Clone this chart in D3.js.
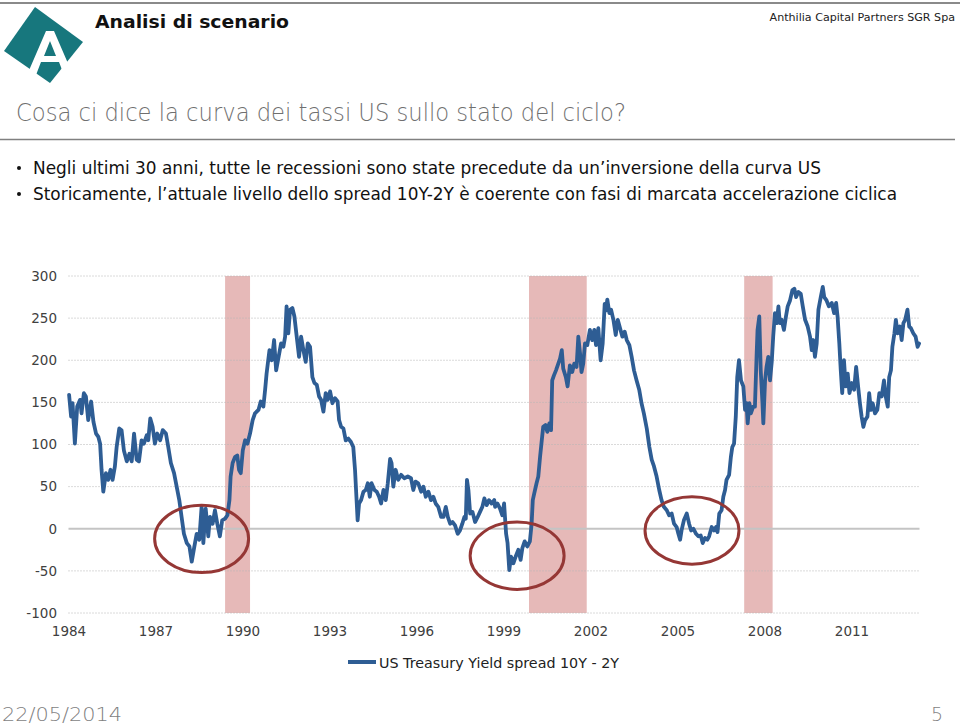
<!DOCTYPE html>
<html><head><meta charset="utf-8">
<script src="https://cdn.jsdelivr.net/npm/d3@7"></script>
<style>
html,body{margin:0;padding:0;background:#fff;}
svg{display:block;}
text{font-family:"DejaVu Sans",sans-serif;}
</style></head>
<body>
<svg id="c" width="960" height="726"></svg>
<script>
// ---------- data ----------
const years = [1984.02,1984.09,1984.14,1984.22,1984.30,1984.40,1984.45,1984.53,1984.60,1984.68,1984.78,1984.86,1984.95,1985.03,1985.09,1985.14,1985.20,1985.29,1985.37,1985.45,1985.52,1985.60,1985.66,1985.75,1985.83,1985.91,1986.01,1986.10,1986.18,1986.26,1986.35,1986.43,1986.52,1986.60,1986.70,1986.75,1986.82,1986.90,1986.98,1987.06,1987.16,1987.25,1987.36,1987.44,1987.53,1987.64,1987.73,1987.82,1987.90,1987.98,1988.08,1988.17,1988.25,1988.33,1988.42,1988.51,1988.59,1988.65,1988.73,1988.82,1988.88,1988.97,1989.05,1989.13,1989.22,1989.30,1989.40,1989.48,1989.55,1989.59,1989.66,1989.74,1989.82,1989.88,1989.94,1990.01,1990.09,1990.17,1990.26,1990.35,1990.43,1990.55,1990.63,1990.72,1990.78,1990.83,1990.93,1991.01,1991.09,1991.16,
1991.33,1991.41,1991.47,1991.52,1991.58,1991.64,1991.72,1991.79,1991.87,1991.95,1992.02,1992.10,1992.18,1992.25,1992.33,1992.41,1992.48,1992.56,1992.64,1992.71,1992.79,1992.87,1992.94,1993.02,1993.10,1993.19,1993.28,1993.33,1993.40,1993.48,1993.56,1993.65,1993.74,1993.82,1993.88,1993.94,1993.97,1994.02,1994.09,1994.17,1994.25,1994.32,1994.39,1994.45,1994.55,1994.63,1994.71,1994.78,1994.86,1994.94,1995.01,1995.09,1995.14,1995.20,1995.28,1995.37,1995.47,1995.58,1995.70,1995.81,1995.89,1995.97,1996.06,1996.16,1996.24,1996.32,1996.41,1996.50,1996.58,1996.66,1996.75,1996.85,1996.93,1997.01,1997.08,1997.16,1997.24,1997.33,1997.42,1997.50,1997.58,1997.65,1997.70,1997.74,1997.79,1997.85,1997.93,1998.02,1998.11,1998.19,1998.27,1998.34,1998.42,1998.50,1998.59,1998.68,
1998.71,1998.79,1998.88,1998.96,1999.02,1999.09,1999.14,1999.20,1999.26,1999.34,1999.42,1999.51,1999.59,1999.65,1999.73,1999.82,1999.91,1999.97,2000.01,2000.06,2000.14,2000.20,2000.26,2000.32,2000.37,2000.45,2000.51,2000.58,2000.64,2000.68,2000.74,2000.81,2000.89,2000.95,2001.01,2001.06,2001.15,2001.21,2001.29,2001.37,2001.44,2001.52,2001.58,2001.64,2001.69,2001.75,2001.81,2001.89,2001.98,2002.06,2002.13,2002.19,2002.27,2002.35,2002.42,2002.49,2002.53,2002.58,2002.65,2002.71,2002.79,2002.87,2002.94,2003.02,2003.10,2003.18,2003.25,2003.34,2003.42,2003.50,2003.59,2003.68,2003.76,2003.84,2003.94,2004.03,2004.11,2004.19,2004.28,2004.37,2004.45,2004.53,2004.63,2004.71,2004.80,2004.88,2004.97,2005.03,2005.09,2005.14,2005.22,2005.32,2005.40,2005.47,2005.55,2005.64,2005.72,2005.80,2005.87,2005.95,2006.03,
2006.09,2006.18,2006.26,2006.33,2006.38,2006.44,2006.52,2006.58,2006.64,2006.69,2006.78,2006.84,2006.89,2006.95,2007.01,2007.06,2007.12,2007.19,2007.27,2007.33,2007.38,2007.42,2007.48,2007.53,2007.61,2007.67,2007.73,2007.76,2007.82,2007.87,2007.93,2007.96,2008.02,2008.07,2008.13,2008.19,2008.25,2008.30,2008.36,2008.42,2008.48,2008.53,2008.59,2008.67,2008.74,2008.80,2008.88,2008.96,2009.03,2009.09,2009.17,2009.25,2009.32,2009.40,2009.49,2009.57,2009.63,2009.68,2009.74,2009.80,2009.86,2009.94,2010.01,2010.06,2010.14,2010.22,2010.32,2010.40,2010.47,2010.52,2010.58,2010.63,2010.68,2010.74,2010.80,2010.87,2010.93,2011.01,2011.09,2011.16,2011.24,2011.29,2011.35,2011.41,2011.47,2011.55,2011.61,2011.67,2011.73,2011.81,2011.89,2011.96,2012.04,2012.12,2012.18,2012.25,2012.30,2012.36,2012.41,2012.48,2012.53,2012.59,2012.67,2012.73,2012.79,2012.85,2012.93,2012.99,2013.05,2013.13,2013.21,2013.28,2013.33];
const spread = [159,133,149,101,145,153,137,161,157,129,151,127,113,109,101,70,44,66,58,70,58,74,97,119,117,93,80,89,80,113,82,80,105,101,111,105,131,121,101,113,105,117,113,97,78,66,50,34,14,-6,-17,-21,-39,-23,-6,-13,26,-17,24,-9,14,6,22,6,-9,10,12,16,34,62,78,85,87,70,66,93,105,101,113,129,137,141,151,145,165,184,212,200,224,188,
220,216,228,264,232,260,262,252,228,204,228,212,198,220,216,180,173,171,157,153,139,161,153,163,149,155,151,129,121,119,105,107,103,97,70,30,10,30,34,44,46,54,38,54,46,44,38,30,46,34,54,83,78,50,70,58,64,60,62,60,46,56,54,44,50,38,44,34,38,30,26,14,14,26,14,6,8,4,-6,-2,6,14,12,58,46,18,20,8,14,20,26,36,28,34,30,34,
26,30,24,16,30,-6,-17,-49,-33,-41,-33,-25,-37,-23,-15,-21,-15,6,34,42,54,62,85,105,121,123,115,125,117,176,182,188,196,202,212,190,180,169,194,186,196,192,228,208,186,196,220,218,236,224,236,218,238,200,220,267,259,272,256,260,248,230,248,238,228,234,224,218,204,188,176,165,149,137,119,97,82,74,62,46,34,26,22,16,18,6,2,-6,-13,-2,10,18,6,-2,0,-6,-9,-8,-17,-11,-13,
-9,2,-2,2,-4,18,22,38,46,58,64,85,97,101,133,180,200,176,169,141,149,125,149,137,145,145,208,236,252,188,149,125,176,192,204,176,198,228,256,244,264,244,248,236,252,264,271,283,285,275,281,279,264,248,240,228,212,224,204,220,260,275,287,275,271,264,268,256,268,252,220,188,161,200,169,184,161,173,165,192,165,149,133,121,129,133,161,141,149,137,141,161,157,176,157,145,180,188,216,232,248,232,240,224,244,248,260,240,238,232,228,216,220];

const recStart = [1989.40, 1999.88, 2007.30];
const recEnd   = [1990.26, 2001.87, 2008.28];

const circleYear  = [1988.59, 1999.47, 2005.50];
const circleValue = [-12, -32, -2];
const circleRadiusYears = 1.62;
const circleRadiusValue = 40;

const xTicks = [1984,1987,1990,1993,1996,1999,2002,2005,2008,2011];
const yTicks = [-100,-50,0,50,100,150,200,250,300];

const seriesName = "US Treasury Yield spread 10Y - 2Y";
const headerTitle = "Analisi di scenario";
const company = "Anthilia Capital Partners SGR Spa";
const slideTitle = "Cosa ci dice la curva dei tassi US sullo stato del ciclo?";
const bullets = ["Negli ultimi 30 anni, tutte le recessioni sono state precedute da un\u2019inversione della curva US",
                 "Storicamente, l\u2019attuale livello dello spread 10Y-2Y \u00e8 coerente con fasi di marcata accelerazione ciclica"];
const footDate = "22/05/2014";
const pageNum = "5";

// ---------- drawing ----------
const svg = d3.select("#c");
const lineColor = "#2e5d94";

// header rule
svg.append("line").attr("x1",0).attr("x2",960).attr("y1",3).attr("y2",3)
  .attr("stroke","#8a8a8a").attr("stroke-width",2);

// logo
const logo = svg.append("g");
logo.append("path").attr("d","M35,7 L83,42 L50,83 L4,51 Z").attr("fill","#17777d");
logo.append("path").attr("d","M46,31 L54,31 L73,75 L64,75 L59,62 L41,62 L36,75 L27,75 Z").attr("fill","#fff");
logo.append("path").attr("d","M50,41 L56,56 L44,56 Z").attr("fill","#17777d");

svg.append("text").attr("x",95).attr("y",28).attr("font-size",18).attr("font-weight","bold")
  .attr("fill","#111").attr("textLength",194).attr("lengthAdjust","spacingAndGlyphs").text(headerTitle);
svg.append("text").attr("x",955).attr("y",21).attr("font-size",11.1).attr("text-anchor","end")
  .attr("fill","#222").text(company);

svg.append("text").attr("x",16).attr("y",121).attr("font-size",25).attr("font-family","Lato").attr("font-weight",300)
  .attr("fill","#6f6f6f").attr("textLength",610).attr("lengthAdjust","spacingAndGlyphs").text(slideTitle);
svg.append("line").attr("x1",0).attr("x2",955).attr("y1",139.5).attr("y2",139.5)
  .attr("stroke","#808080").attr("stroke-width",1.5);

const bulletLens = [788, 864];
bullets.forEach((b,i)=>{
  const y = 174 + i*26;
  svg.append("circle").attr("cx",19).attr("cy",y-6).attr("r",2).attr("fill","#111");
  svg.append("text").attr("x",33).attr("y",y).attr("font-size",17).attr("font-family","Lato")
    .attr("fill","#111").attr("textLength",bulletLens[i]).attr("lengthAdjust","spacingAndGlyphs").text(b);
});

// chart
const x = d3.scaleLinear().domain([1984, 2013.345]).range([68.5, 919.5]);
const y = d3.scaleLinear().domain([-100, 300]).range([613, 276]);
const g = svg.append("g");

// recession bands
g.selectAll("rect.rec").data(recStart).join("rect").attr("class","rec")
  .attr("x",(d)=>x(d)).attr("width",(d,i)=>x(recEnd[i])-x(d))
  .attr("y",y(300)).attr("height",y(-100)-y(300)).attr("fill","#e6b9b8");

// gridlines
g.selectAll("line.grid").data(yTicks).join("line").attr("class","grid")
  .attr("x1",x(1984)).attr("x2",x(2013.345)).attr("y1",d=>y(d)).attr("y2",d=>y(d))
  .attr("stroke",d=>d===0?"#c4c4c4":"#b5b5b5")
  .attr("stroke-width",d=>d===0?2:1)
  .attr("stroke-dasharray",d=>d===0?null:"1,2");

// axes
const yAxis = g.append("g").attr("transform","translate(57,0)")
  .call(d3.axisLeft(y).tickValues(yTicks).tickFormat(d=>String(d)).tickSize(0).tickPadding(0));
yAxis.select(".domain").remove();
yAxis.selectAll("text").attr("font-size",13.5).attr("fill","#404040").attr("font-family","DejaVu Sans");

const xAxis = g.append("g").attr("transform","translate(0,626)")
  .call(d3.axisBottom(x).tickValues(xTicks).tickFormat(d3.format("d")).tickSize(0).tickPadding(0));
xAxis.select(".domain").remove();
xAxis.selectAll("text").attr("font-size",13.5).attr("fill","#404040").attr("font-family","DejaVu Sans");

// series line
const pts = years.map((t,i)=>[t, spread[i]]);
g.append("path").datum(pts)
  .attr("d", d3.line().x(d=>x(d[0])).y(d=>y(d[1])))
  .attr("fill","none").attr("stroke",lineColor).attr("stroke-width",3.8)
  .attr("stroke-linejoin","round").attr("stroke-linecap","round");

// annotation ellipses
g.selectAll("ellipse.ann").data(circleYear).join("ellipse").attr("class","ann")
  .attr("cx",d=>x(d)).attr("cy",(d,i)=>y(circleValue[i]))
  .attr("rx",x(1984+circleRadiusYears)-x(1984)).attr("ry",y(0)-y(circleRadiusValue))
  .attr("fill","none").attr("stroke","#953735").attr("stroke-width",3);

// legend
const lg = svg.append("g");
lg.append("line").attr("x1",348).attr("x2",376).attr("y1",662).attr("y2",662)
  .attr("stroke",lineColor).attr("stroke-width",4);
lg.append("text").attr("x",379).attr("y",668).attr("font-size",13.5).attr("fill","#222")
  .attr("textLength",240).attr("lengthAdjust","spacingAndGlyphs").text(seriesName);

// footer
svg.append("text").attr("x",2).attr("y",721).attr("font-size",19).attr("font-family","Lato").attr("font-weight",300)
  .attr("fill","#7f7f7f").attr("textLength",120).attr("lengthAdjust","spacingAndGlyphs").text(footDate);
svg.append("text").attr("x",943).attr("y",721).attr("text-anchor","end").attr("font-size",19)
  .attr("font-family","Lato").attr("font-weight",300).attr("fill","#7f7f7f").text(pageNum);
</script>
</body></html>
